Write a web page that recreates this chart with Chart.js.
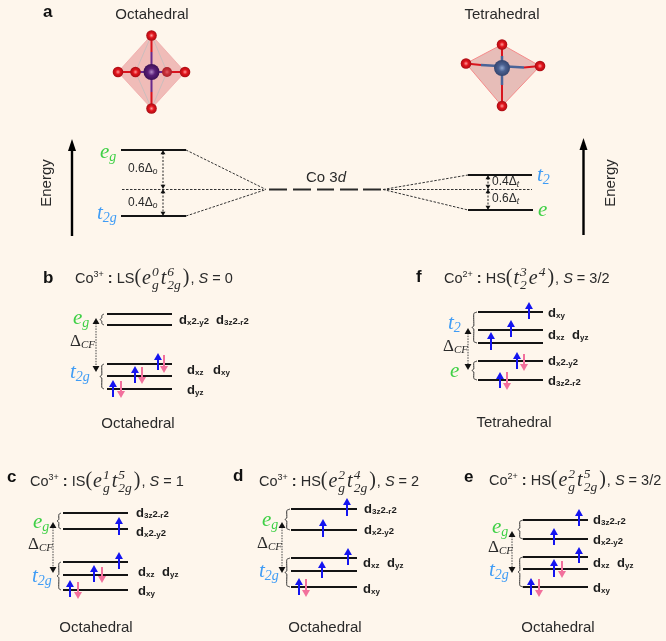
<!DOCTYPE html>
<html>
<head>
<meta charset="utf-8">
<style>
  html, body { margin: 0; background: #fef6ec; }
  canvas { display: block; filter: blur(0.35px); }
</style>
<script src="https://cdn.jsdelivr.net/npm/chart.js@4/dist/chart.umd.min.js"></script>
</head>
<body>
<canvas id="chart" width="666" height="641"></canvas>
<script>
// energy levels, one list per panel: [x start, x end, y]
var levelsA = [[121,186,150],[121,186,216],[468,532,175],[468,533,210]];
var levelsB = [[107,172,314],[107,172,325],[107,172,364],[107,172,376],[107,172,389]];
var levelsC = [[63,128,513],[63,128,529],[63,128,562],[63,128,575],[63,128,590]];
var levelsD = [[291,357,509],[291,357,530],[291,357,558],[291,357,571],[291,357,587]];
var levelsE = [[523,588,520],[523,588,539],[523,588,557],[523,588,569],[523,588,587]];
var levelsF = [[478,543,312],[478,543,330],[478,543,343],[478,543,361],[478,543,380]];

// Co 3d level, broken in five pieces
var co3dPieces = [[269,287,189.5],[293,311,189.5],[317,334,189.5],[340,358,189.5],[363,381,189.5]];

// dashed splitting lines: [x0, y0, x1, y1]
var splitLines = [
  [186,150,266,189.5],[186,216,266,189.5],[122,189.5,263,189.5],
  [383,189.5,468,175],[383,189.5,468,210],[383,189.5,532,189.5]
];

// spin arrows: [x, tail y, tip y]
var spinUp = [
  [113,397,380],[135,383,366],[158,370,353],
  [119,535,517],[119,569,552],[94,582,565],[70,597,580],
  [347,516,498],[323,537,519],[348,565,548],[322,578,561],[299,595,578],
  [579,526,509],[554,545,528],[579,563,547],[554,577,559],[531,595,578],
  [529,319,302],[511,337,320],[491,350,332],[517,369,352],[500,388,372]
];
var spinDown = [
  [121,381,398],[142,367,384],[164,355,373],
  [102,567,583],[78,582,599],
  [306,579,597],
  [562,561,578],[539,579,597],
  [524,354,371],[507,372,390]
];

// double headed gap arrows: [x, top y, bottom y]
var gapArrows = [
  [163,150,189],[163,189,216],[488,175,189],[488,189,210]
];
var deltaArrows = [
  [96,318,372],[53,522,573],[282,522,573],[512,531,573],[468,328,370]
];
// braces: [tip x, right x, top y, bottom y]
var braces = [
  [100,104,314,325],[100,104,364,389],
  [57,61,513,529],[57,61,562,590],
  [285,290,509,530],[285,290,558,587],
  [518,523,520,539],[518,523,557,587],
  [472,477,312,343],[472,477,361,380]
];

// energy axis arrows: [x, tail y, tip y]
var energyArrows = [[72,236,139],[583.5,235,138]];

// crystal field polyhedra
var octaOutline = [[151.5,35],[185,72],[151.5,108.5],[118,72]];
var tetraOutline = [[502,44.5],[540,66],[502,106],[466,63.5]];
var octaFacets = [[151.5,35,135.5,72],[151.5,108.5,135.5,72],[151.5,35,167,72],[151.5,108.5,167,72]];
var oxygenFront = [[151.5,35.5],[151.5,108.5],[118,72],[185,72],[135.5,72],[502,44.5],[466,63.5],[540,66],[502,106]];
var oxygenBack = [[167,72]];
var cobaltOcta = [[151.5,72]];
var cobaltTetra = [[502,68]];
var bondsRed = [[151.5,36,151.5,52],[151.5,92,151.5,108],[118,72,134,72],[169,72,185,72],
  [502,45,502,56],[502,85,502,106],[466,63.5,481,65],[524,67.5,540,66]];
var bondsPurple = [[151.5,52,151.5,92],[134,72,169,72]];
var bondsSteel = [[502,56,502,85],[481,65,524,67.5]];

// texts
var panelLetters = [['a',43,12],['b',43,278],['c',7,477],['d',233,476],['e',464,477],['f',416,277]];
var plainTexts = [
  ['Octahedral',152,15],['Tetrahedral',502,15],
  ['Octahedral',138,424],['Tetrahedral',514,423],
  ['Octahedral',96,628],['Octahedral',325,628],['Octahedral',558,628]
];
var titleB = [['r','Co'],['u','3+'],['b',' : '],['r','LS'],['p','('],['m','e'],['s','0','g'],['m','t'],['s','6','2g'],['p',')'],['r',', '],['i','S'],['r',' = 0']];
var titleC = [['r','Co'],['u','3+'],['b',' : '],['r','IS'],['p','('],['m','e'],['s','1','g'],['m','t'],['s','5','2g'],['p',')'],['r',', '],['i','S'],['r',' = 1']];
var titleD = [['r','Co'],['u','3+'],['b',' : '],['r','HS'],['p','('],['m','e'],['s','2','g'],['m','t'],['s','4','2g'],['p',')'],['r',', '],['i','S'],['r',' = 2']];
var titleE = [['r','Co'],['u','2+'],['b',' : '],['r','HS'],['p','('],['m','e'],['s','2','g'],['m','t'],['s','5','2g'],['p',')'],['r',', '],['i','S'],['r',' = 3/2']];
var titleF = [['r','Co'],['u','2+'],['b',' : '],['r','HS'],['p','('],['m','t'],['s','3','2'],['m','e'],['s','4',''],['p',')'],['r',', '],['i','S'],['r',' = 3/2']];

// orbital names, "|" switches between lowered and raised parts
var X2Y2 = 'x|2|-y|2', Z2R2 = '3z|2|-r|2';
var orbitals = [
  [X2Y2,179,320],[Z2R2,216,320],['xz',187,370],['xy',213,370],['yz',187,390],
  [Z2R2,136,513],[X2Y2,136,532],['xz',138,572],['yz',162,572],['xy',138,591],
  [Z2R2,364,509],[X2Y2,364,530],['xz',363,563],['yz',387,563],['xy',363,589],
  [Z2R2,593,520],[X2Y2,593,540],['xz',593,563],['yz',617,563],['xy',593,588],
  ['xy',548,313],['xz',548,335],['yz',572,335],[X2Y2,548,361],[Z2R2,548,381]
];
var egLabels = [['e','g',100,152],['e','g',73,318],['e','g',33,522],['e','g',262,520],['e','g',492,527]];
var t2gLabels = [['t','2g',97,213],['t','2g',70,372],['t','2g',32,576],['t','2g',259,571],['t','2g',489,570]];
var tetraT2 = [['t','2',537,175],['t','2',448,323]];
var tetraE = [['e','',538,210],['e','',450,371]];
var crystalLabels = [[70,342],[28,545],[257,544],[488,548],[443,347]];
var splitLabels = [['0.6','o',128,169],['0.4','o',128,203],['0.4','t',492,182],['0.6','t',492,199]];

var GREEN = '#3fd046', BLUE = '#3f9cf5', INK = '#2a2a2a';
var SANS = '"Liberation Sans", Arial, sans-serif', SERIF = '"Liberation Serif", serif';

function xy(p) { return { x: p[0], y: p[1] }; }

// flat [x0,y0,x1,y1] list to one broken line
function segs(list) {
  var out = [];
  list.forEach(function (s) {
    out.push({ x: s[0], y: s[1] }, { x: s[2], y: s[3] }, { x: NaN, y: NaN });
  });
  return out;
}
function levelSegs(list) {
  return segs(list.map(function (l) { return [l[0], l[2], l[1], l[2]]; }));
}
function lineSet(data, color, width, dash) {
  return {
    type: 'scatter', data: data, showLine: true, spanGaps: false,
    borderColor: color, borderWidth: width, borderDash: dash || [],
    pointRadius: 0, fill: false
  };
}
function headSet(tips, r, color, up) {
  return {
    type: 'scatter', showLine: false, pointStyle: 'triangle',
    pointRadius: r, pointHoverRadius: r, pointBorderWidth: 0,
    pointRotation: up ? 0 : 180, pointBackgroundColor: color,
    data: tips.map(function (t) { return { x: t[0], y: up ? t[1] + r : t[1] - r }; })
  };
}
function atomSet(points, r, inner, mid, edge) {
  return {
    type: 'scatter', showLine: false, pointRadius: r, pointBorderWidth: 0,
    data: points.map(xy),
    pointBackgroundColor: function (ctx) {
      if (!ctx.raw) return mid;
      var px = ctx.chart.scales.x.getPixelForValue(ctx.raw.x);
      var py = ctx.chart.scales.y.getPixelForValue(ctx.raw.y);
      // first reset pass runs before layout, scales have no size yet
      if (!isFinite(px) || !isFinite(py)) return mid;
      var g = ctx.chart.ctx.createRadialGradient(px, py, 0, px, py, r);
      g.addColorStop(0, inner);
      g.addColorStop(0.45, mid);
      g.addColorStop(1, edge);
      return g;
    }
  };
}
function braceSet(b) {
  var tip = b[0], right = b[1], top = b[2], bottom = b[3], mid = (top + bottom) / 2, m = tip + 1.8;
  var ds = lineSet([
    { x: right, y: top }, { x: m, y: top + 1.5 }, { x: m, y: mid - 1.5 }, { x: tip, y: mid },
    { x: m, y: mid + 1.5 }, { x: m, y: bottom - 1.5 }, { x: right, y: bottom }
  ], '#333333', 1);
  ds.tension = 0.15;
  return ds;
}

var allLevels = levelsA.concat(levelsB, levelsC, levelsD, levelsE, levelsF);
var tipsOf = function (list) { return list.map(function (a) { return [a[0], a[2]]; }); };
var shaftUp = segs(spinUp.map(function (a) { return [a[0], a[1], a[0], a[2] + 5]; }));
var shaftDown = segs(spinDown.map(function (a) { return [a[0], a[1], a[0], a[2] - 5]; }));

// bottom layer first, reversed below because Chart.js paints the first dataset last
var layers = [
  lineSet(segs(octaFacets), 'rgba(190,190,190,0.75)', 1),
  lineSet(segs(bondsRed), '#d8141e', 2),
  lineSet(segs(bondsPurple), '#6a2a8c', 2),
  lineSet(segs(bondsSteel), '#4a6498', 2.5),
  atomSet(oxygenBack, 5, '#e06068', '#c83038', '#a82028'),
  atomSet(oxygenFront, 5.3, '#ff9a9a', '#e3141c', '#a80d14'),
  atomSet(cobaltOcta, 8, '#b48ac8', '#5a1f78', '#3c1055'),
  atomSet(cobaltTetra, 8, '#8ea6d0', '#4a6090', '#34456e'),
  lineSet(segs(splitLines), '#333333', 1, [2.5, 1.5]),
  lineSet(levelSegs(co3dPieces), '#2a2a2a', 2),
  lineSet(levelSegs(allLevels), '#141414', 2)
];
braces.forEach(function (b) { layers.push(braceSet(b)); });
layers.push(
  lineSet(segs(gapArrows.map(function (a) { return [a[0], a[1] + 3, a[0], a[2] - 3]; })), '#222222', 1, [2, 1.5]),
  lineSet(segs(deltaArrows.map(function (a) { return [a[0], a[1] + 5, a[0], a[2] - 5]; })), '#444444', 1, [1.5, 1.2]),
  headSet(gapArrows.map(function (a) { return [a[0], a[1]]; }), 2.8, '#111111', true),
  headSet(gapArrows.map(function (a) { return [a[0], a[2]]; }), 2.8, '#111111', false),
  headSet(deltaArrows.map(function (a) { return [a[0], a[1]]; }), 4, '#111111', true),
  headSet(deltaArrows.map(function (a) { return [a[0], a[2]]; }), 4, '#111111', false),
  lineSet(shaftUp, '#1414f0', 2),
  lineSet(shaftDown, '#f2709c', 2),
  headSet(tipsOf(spinUp), 4.6, '#1414f0', true),
  headSet(tipsOf(spinDown), 4.6, '#f2709c', false),
  lineSet(segs(energyArrows.map(function (a) { return [a[0], a[1], a[0], a[2] + 10]; })), '#000000', 2.4)
);

function polygon(chart, pts, fill, stroke) {
  var c = chart.ctx, sx = chart.scales.x, sy = chart.scales.y;
  c.beginPath();
  pts.forEach(function (p, i) {
    var px = sx.getPixelForValue(p[0]), py = sy.getPixelForValue(p[1]);
    if (i === 0) c.moveTo(px, py); else c.lineTo(px, py);
  });
  c.closePath();
  c.fillStyle = fill;
  c.fill();
  if (stroke) { c.strokeStyle = stroke; c.lineWidth = 1; c.stroke(); }
}

function put(c, text, x, y, font, color) {
  c.font = font;
  c.fillStyle = color;
  c.fillText(text, x, y);
  return x + c.measureText(text).width;
}

function mathLabel(c, item, color) {
  var x = put(c, item[0], item[2], item[3], 'italic 21px ' + SERIF, color);
  if (item[1]) put(c, item[1], x, item[3] + 5, 'italic 14px ' + SERIF, color);
}

function drawTitle(c, runs, x, y) {
  runs.forEach(function (r) {
    if (r[0] === 'r') x = put(c, r[1], x, y, '14.5px ' + SANS, INK);
    if (r[0] === 'b') x = put(c, r[1], x, y, 'bold 14.5px ' + SANS, INK);
    if (r[0] === 'u') x = put(c, r[1], x, y - 4, '9px ' + SANS, INK);
    if (r[0] === 'i') x = put(c, r[1], x, y, 'italic 14.5px ' + SANS, INK);
    if (r[0] === 'p') x = put(c, r[1], x, y - 1, '20px ' + SERIF, INK) + 1;
    if (r[0] === 'm') x = put(c, r[1], x, y, 'italic 20px ' + SERIF, INK) + 1;
    if (r[0] === 's') {
      var f = 'italic 13.5px ' + SERIF;
      c.font = f;
      var w = Math.max(c.measureText(r[1]).width, c.measureText(r[2]).width);
      put(c, r[1], x, y - 7, f, INK);
      put(c, r[2], x, y + 6, f, INK);
      x += w + 2;
    }
  });
}

function drawOrbital(c, item) {
  var y = item[2];
  var x = put(c, 'd', item[1], y, 'bold 13px ' + SANS, '#1c1c1c');
  item[0].split('|').forEach(function (part, i) {
    if (i % 2 === 0) x = put(c, part, x, y + 3, 'bold 8px ' + SANS, '#1c1c1c');
    else x = put(c, part, x, y + 1, 'bold 9.5px ' + SANS, '#1c1c1c');
  });
}

var backdrop = {
  id: 'backdrop',
  beforeDatasetsDraw: function (chart) {
    polygon(chart, octaOutline, 'rgba(226,130,132,0.5)', 'rgba(240,170,170,0.8)');
    polygon(chart, tetraOutline, 'rgba(205,120,122,0.45)', 'rgba(245,130,130,0.9)');
  }
};

var annotations = {
  id: 'annotations',
  afterDatasetsDraw: function (chart) {
    var c = chart.ctx;
    energyArrows.forEach(function (a) {
      polygon(chart, [[a[0], a[2]], [a[0] + 4, a[2] + 12], [a[0] - 4, a[2] + 12]], '#000000');
    });
    c.save();
    c.textBaseline = 'middle';
    c.textAlign = 'left';
    panelLetters.forEach(function (t) { put(c, t[0], t[1], t[2], 'bold 17px ' + SANS, '#111111'); });
    c.textAlign = 'center';
    plainTexts.forEach(function (t) { put(c, t[0], t[1], t[2], '15px ' + SANS, INK); });
    c.textAlign = 'left';
    drawTitle(c, titleB, 75, 279);
    drawTitle(c, titleC, 30, 482);
    drawTitle(c, titleD, 259, 482);
    drawTitle(c, titleE, 489, 481);
    drawTitle(c, titleF, 444, 279);
    orbitals.forEach(function (o) { drawOrbital(c, o); });
    egLabels.forEach(function (l) { mathLabel(c, l, GREEN); });
    t2gLabels.forEach(function (l) { mathLabel(c, l, BLUE); });
    tetraT2.forEach(function (l) { mathLabel(c, l, BLUE); });
    tetraE.forEach(function (l) { mathLabel(c, l, GREEN); });
    crystalLabels.forEach(function (p) {
      var x = put(c, '\u0394', p[0], p[1], '17px ' + SERIF, INK);
      put(c, 'CF', x, p[1] + 3, 'italic 11px ' + SERIF, INK);
    });
    splitLabels.forEach(function (l) {
      var x = put(c, l[0] + '\u0394', l[2], l[3], '12px ' + SANS, INK);
      put(c, l[1], x, l[3] + 3, 'italic 8.5px ' + SANS, INK);
    });
    var x = put(c, 'Co 3', 306, 178, '15px ' + SANS, INK);
    put(c, 'd', x, 178, 'italic 15px ' + SANS, INK);
    // Energy labels last, rotated
    [[47, 183], [611, 183]].forEach(function (p) {
      c.save();
      c.translate(p[0], p[1]);
      c.rotate(-Math.PI / 2);
      c.textAlign = 'center';
      put(c, 'Energy', 0, 0, '15px ' + SANS, INK);
      c.restore();
    });
    c.restore();
  }
};

new Chart(document.getElementById('chart'), {
  type: 'scatter',
  data: { datasets: layers.reverse() },
  options: {
    responsive: false,
    animation: false,
    events: [],
    layout: { padding: 0, autoPadding: false },
    plugins: { legend: { display: false }, tooltip: { enabled: false } },
    scales: {
      x: { type: 'linear', min: 0, max: 666, display: false },
      y: { type: 'linear', min: 0, max: 641, reverse: true, display: false }
    }
  },
  plugins: [backdrop, annotations]
});
</script>
</body>
</html>
